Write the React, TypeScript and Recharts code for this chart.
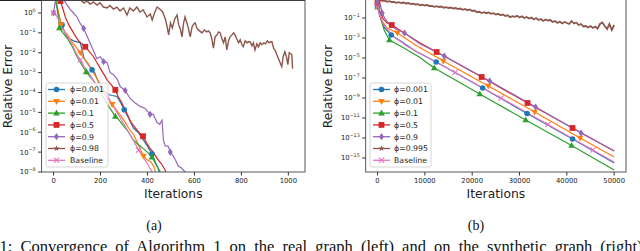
import React from 'react';
import { LineChart, Line, XAxis, YAxis } from 'recharts';

type Pt = [number, number]; // [iteration, log10(relative error)]

const FONT = '"DejaVu Sans", sans-serif';
const SERIF = '"Liberation Serif", "Times New Roman", serif';

const colors = ['#1f77b4', '#ff7f0e', '#2ca02c', '#d62728', '#9467bd', '#8c564b', '#e377c2'];
const shapes = ['o', 'v', '^', 's', 'd', '*', 'x'];
const namesA = ['ϕ=0.001', 'ϕ=0.01', 'ϕ=0.1', 'ϕ=0.5', 'ϕ=0.9', 'ϕ=0.98', 'Baseline'];
const namesB = ['ϕ=0.001', 'ϕ=0.01', 'ϕ=0.1', 'ϕ=0.5', 'ϕ=0.9', 'ϕ=0.995', 'Baseline'];

// ---- panel (a) ----
const aTicksX = [0, 200, 400, 600, 800, 1000];
const aTicksY = [0, -1, -2, -3, -4, -5, -6, -7, -8];

const blueA: Pt[] = [[0, 1.0], [10, 0.5], [20, 0.0], [30, -0.45], [36, -0.6], [45, -0.9], [57, -1.2], [70, -1.3], [85, -1.4], [100, -1.45], [114, -1.5], [122, -1.9], [130, -2.3], [145, -2.55], [164, -2.86], [175, -3.0], [185, -3.3], [199, -3.7], [215, -3.9], [234, -4.1], [250, -4.15], [270, -4.2], [285, -4.5], [301, -4.87], [320, -5.3], [341, -5.8], [360, -6.0], [383, -6.4], [400, -6.7], [419, -7.1], [433, -7.5], [445, -7.8], [455, -8.2]];
const orangeA: Pt[] = [[0, 1.2], [12, 0.5], [22, 0.0], [32, -0.6], [45, -0.9], [60, -1.1], [75, -1.4], [95, -1.7], [114, -2.0], [130, -2.3], [150, -2.6], [170, -3.0], [190, -3.4], [210, -3.8], [230, -4.2], [250, -4.6], [275, -5.0], [300, -5.4], [320, -5.8], [340, -6.1], [360, -6.6], [383, -7.2], [400, -7.4], [415, -7.5], [430, -7.8], [440, -8.3]];
const greenA: Pt[] = [[0, 1.3], [8, 0.8], [15, 0.3], [25, -0.75], [40, -1.0], [60, -1.3], [80, -1.7], [100, -2.2], [120, -2.6], [139, -2.96], [155, -3.2], [170, -3.4], [190, -3.8], [210, -4.2], [235, -4.7], [263, -5.2], [280, -5.4], [300, -5.7], [320, -6.0], [340, -6.4], [360, -6.6], [380, -6.8], [400, -7.0], [419, -7.25], [440, -7.7], [455, -8.0], [465, -8.3]];
const redA: Pt[] = [[0, 1.5], [15, 1.0], [29, 0.6], [40, 0.2], [50, -0.2], [65, -0.6], [80, -0.9], [95, -1.2], [110, -1.45], [135, -1.7], [150, -1.9], [170, -2.2], [185, -2.5], [200, -2.8], [215, -3.1], [230, -3.4], [245, -3.6], [263, -3.87], [275, -4.2], [290, -4.5], [310, -5.0], [330, -5.5], [350, -5.8], [370, -6.1], [381, -6.2], [395, -6.5], [410, -6.8], [425, -7.0], [440, -7.3], [460, -7.6], [475, -7.9], [485, -8.3]];
const purpleA: Pt[] = [[0, 0.0], [6, 0.5], [15, 0.9], [30, 0.85], [45, 0.65], [55, 0.45], [70, 0.2], [85, 0.0], [100, -0.2], [112, -0.5], [128, -0.77], [140, -1.1], [155, -1.5], [170, -1.9], [184, -2.3], [198, -2.2], [213, -2.45], [228, -2.5], [241, -3.0], [255, -3.1], [270, -3.3], [284, -3.7], [305, -3.9], [326, -4.3], [345, -4.5], [369, -4.7], [390, -4.8], [411, -5.1], [425, -5.1], [440, -5.5], [452, -5.6], [462, -5.4], [468, -6.4], [476, -6.7], [488, -6.7], [497, -7.0], [510, -7.2], [519, -7.4], [531, -7.7], [545, -7.8], [560, -8.0], [575, -8.2]];
const brownA: Pt[] = [[0, 1.4], [15, 1.2], [30, 1.1], [45, 1.0], [60, 0.95], [75, 0.85], [90, 0.75], [105, 0.68], [118, 0.62], [130, 0.5], [142, 0.62], [155, 0.45], [170, 0.55], [185, 0.4], [198, 0.52], [212, 0.3], [228, 0.25], [240, 0.38], [255, 0.2], [270, 0.3], [283, 0.1], [298, 0.25], [313, -0.1], [325, 0.25], [340, 0.1], [355, 0.3], [368, 0.05], [382, 0.15], [398, -0.2], [412, -0.05], [420, -0.35], [430, 0.0], [441, 0.3], [452, 0.2], [465, 0.05], [476, -0.3], [484, -0.7], [490, -1.1], [498, -0.5], [506, -0.75], [516, -0.3], [526, -0.1], [533, -0.6], [540, -0.8], [547, -1.2], [554, -0.5], [560, -0.2], [568, -0.5], [575, -0.8], [582, -1.2], [590, -0.7], [597, -0.55], [603, -0.5], [612, -0.8], [622, -0.9], [632, -1.0], [642, -0.85], [652, -0.95], [660, -0.9], [667, -1.0], [674, -1.3], [681, -1.77], [688, -1.2], [696, -1.1], [703, -0.95], [710, -1.0], [717, -1.3], [724, -1.5], [731, -1.2], [738, -1.86], [745, -1.4], [752, -1.2], [760, -1.1], [767, -1.0], [773, -1.1], [780, -1.3], [788, -1.5], [795, -1.35], [802, -1.6], [808, -1.7], [816, -1.4], [824, -1.5], [830, -1.45], [837, -1.45], [845, -1.65], [851, -1.5], [858, -1.86], [866, -1.55], [873, -1.7], [880, -1.5], [887, -1.6], [895, -1.5], [903, -1.55], [910, -1.4], [918, -1.5], [925, -1.45], [930, -1.45], [938, -1.8], [945, -1.9], [951, -2.1], [958, -2.3], [965, -2.5], [972, -2.7], [978, -2.2], [985, -1.95], [992, -2.2], [998, -2.6], [1004, -2.0], [1010, -2.05], [1015, -2.1], [1018, -2.8]];
const pinkA: Pt[] = [[0, 0.0], [10, -0.1], [20, -0.3], [35, -0.7], [50, -1.0], [65, -1.3], [80, -1.6], [95, -2.0], [114, -2.36], [130, -2.7], [150, -3.0], [170, -3.4], [190, -3.7], [210, -4.0], [227, -4.2], [250, -4.6], [270, -5.0], [295, -5.5], [320, -6.0], [340, -6.4], [362, -6.9], [380, -7.2], [400, -7.6], [415, -7.9], [430, -8.2]];

const marksA = [
  [36, 164, 301, 419],
  [32, 114, 250, 383],
  [25, 139, 263, 419],
  [29, 135, 263, 381],
  [0, 128, 213, 305, 411, 497],
  [],
  [0, 114, 227, 362],
];

// ---- panel (b) ----
const bTicksX = [0, 10000, 20000, 30000, 40000, 50000];
const bTicksY = [-1, -3, -5, -7, -9, -11, -13, -15];

const blueB: Pt[] = [[0, 0.2], [300, -0.5], [800, -1.3], [1500, -2.0], [2900, -2.7], [5200, -3.4], [8000, -4.3], [12400, -5.4], [22200, -8.0], [31600, -10.55], [41200, -13.1], [50000, -15.5]];
const orangeB: Pt[] = [[0, 0.4], [400, -0.5], [1000, -1.3], [2000, -2.0], [4200, -2.5], [8000, -3.7], [13900, -5.3], [23400, -7.8], [33200, -10.4], [42800, -13.0], [50000, -14.9]];
const greenB: Pt[] = [[0, 0.1], [400, -0.5], [800, -1.2], [1400, -2.2], [2500, -3.2], [5200, -3.9], [8800, -4.9], [12000, -6.0], [21600, -8.6], [31300, -11.2], [41000, -13.75], [50000, -16.2]];
const redB: Pt[] = [[0, 0.5], [500, -0.3], [1200, -1.1], [2000, -1.5], [3000, -1.7], [6000, -2.6], [9000, -3.5], [12500, -4.4], [22000, -6.9], [31700, -9.5], [41200, -12.0], [50000, -14.3]];
const purpleB: Pt[] = [[0, 0.6], [300, 0.5], [600, 0.3], [1000, -0.5], [1500, -1.0], [2500, -1.6], [3800, -2.1], [5700, -2.5], [9000, -3.6], [14100, -4.8], [23700, -7.3], [33400, -9.9], [43000, -12.5], [50000, -14.3]];
const brownB: Pt[] = [[0, 0.85], [500, 0.8], [1000, 0.72], [1500, 0.75], [2000, 0.63], [2500, 0.68], [3000, 0.6], [3500, 0.62], [4000, 0.52], [4500, 0.58], [5000, 0.5], [5500, 0.55], [6000, 0.45], [6500, 0.5], [7000, 0.4], [7500, 0.44], [8000, 0.35], [8500, 0.38], [9000, 0.28], [9500, 0.33], [10000, 0.25], [10500, 0.3], [11000, 0.2], [11500, 0.22], [12000, 0.12], [12500, 0.18], [13000, 0.1], [13500, 0.15], [14000, 0.03], [14500, 0.08], [15000, 0.0], [15500, 0.05], [16000, -0.05], [16500, 0.0], [17000, -0.1], [17500, -0.05], [18000, -0.18], [18500, -0.1], [19000, -0.22], [19500, -0.15], [20000, -0.3], [20500, -0.25], [21000, -0.42], [21500, -0.38], [22000, -0.5], [22500, -0.42], [23000, -0.52], [23500, -0.45], [24000, -0.58], [24500, -0.52], [25000, -0.66], [25500, -0.58], [26000, -0.72], [26500, -0.64], [27000, -0.8], [27500, -0.72], [28000, -0.92], [28500, -0.82], [29000, -0.88], [29500, -0.78], [30000, -0.95], [30500, -0.82], [31000, -1.0], [31500, -0.9], [32000, -1.05], [32500, -0.95], [33000, -1.15], [33500, -1.0], [34000, -1.2], [34500, -1.1], [35000, -1.3], [35500, -1.15], [36000, -1.25], [36500, -1.2], [37000, -1.4], [37500, -1.3], [38000, -1.5], [38500, -1.35], [39000, -1.55], [39500, -1.4], [40000, -1.5], [40500, -1.6], [41000, -1.3], [41500, -1.55], [42000, -1.45], [42500, -1.7], [43000, -1.6], [43500, -1.85], [44000, -1.8], [44500, -1.95], [45000, -1.8], [45500, -2.0], [46000, -1.85], [46500, -2.05], [47000, -1.6], [47500, -1.45], [48000, -1.8], [48500, -2.1], [49000, -1.6], [49500, -2.2], [50000, -1.7]];
const pinkB: Pt[] = [[0, 0.1], [400, -0.6], [1000, -1.4], [2000, -2.1], [3500, -2.9], [6500, -3.9], [10000, -4.8], [16400, -6.45], [26100, -9.0], [36000, -11.65], [45500, -14.2], [50000, -15.4]];

const marksB = [
  [0, 2900, 12400, 22200, 31600, 41200],
  [0, 4200, 13900, 23400, 33200, 42800],
  [0, 2500, 12000, 21600, 31300, 41000],
  [0, 3000, 12500, 22000, 31700, 41200],
  [0, 1000, 5700, 14100, 23700, 33400, 43000],
  [],
  [0, 16400, 26100, 36000, 45500],
];

const seriesA = [blueA, orangeA, greenA, redA, purpleA, brownA, pinkA];
const seriesB = [blueB, orangeB, greenB, redB, purpleB, brownB, pinkB];

const toData = (pts: Pt[]) => pts.map(([x, e]) => ({ x, y: Math.pow(10, e) }));

function Marker({ shape, cx, cy, color }: { shape: string; cx: number; cy: number; color: string }) {
  switch (shape) {
    case 'o':
      return <circle cx={cx} cy={cy} r={2.8} fill={color} />;
    case 's':
      return <rect x={cx - 2.9} y={cy - 2.9} width={5.8} height={5.8} fill={color} />;
    case '^':
      return <polygon points={`${cx},${cy - 3.6} ${cx - 3.3},${cy + 2.3} ${cx + 3.3},${cy + 2.3}`} fill={color} />;
    case 'v':
      return <polygon points={`${cx},${cy + 3.6} ${cx - 3.3},${cy - 2.3} ${cx + 3.3},${cy - 2.3}`} fill={color} />;
    case 'd':
      return <polygon points={`${cx},${cy - 3.6} ${cx + 2.5},${cy} ${cx},${cy + 3.6} ${cx - 2.5},${cy}`} fill={color} />;
    case '*': {
      const pts: string[] = [];
      for (let i = 0; i < 10; i++) {
        const r = i % 2 === 0 ? 3.2 : 1.3;
        const a = -Math.PI / 2 + (i * Math.PI) / 5;
        pts.push(`${cx + r * Math.cos(a)},${cy + r * Math.sin(a)}`);
      }
      return <polygon points={pts.join(' ')} fill={color} />;
    }
    default:
      return (
        <g stroke={color} strokeWidth={1.1}>
          <line x1={cx - 2.6} y1={cy - 2.6} x2={cx + 2.6} y2={cy + 2.6} />
          <line x1={cx - 2.6} y1={cy + 2.6} x2={cx + 2.6} y2={cy - 2.6} />
        </g>
      );
  }
}

const makeDot = (marks: number[], shape: string, color: string) => (p: any) => {
  const key = `${shape}-${p.index}`;
  if (!marks.includes(p.payload?.x) || p.cx == null || p.cy == null) return <g key={key} />;
  return (
    <g key={key}>
      <Marker shape={shape} cx={p.cx} cy={p.cy} color={color} />
    </g>
  );
};

const LogTick = (props: any) => {
  const { x, y, payload } = props;
  const e = Math.round(Math.log10(payload.value));
  const sup = e < 0 ? '\u2212' + String(-e) : String(e);
  return (
    <text x={x} y={y} dy={2.4} textAnchor="end" fontSize={6.8} fill="#222" fontFamily={FONT}>
      10<tspan dy={-3.2} fontSize={4.8}>{sup}</tspan>
    </text>
  );
};

function Panel({ series, marks, ticksX, ticksY, xDomain, yDomain, yWidth, marginRight, height, brownWidth }: any) {
  return (
    <LineChart width={320} height={height} margin={{ top: 0, right: marginRight, left: 0, bottom: 0 }}>
      <XAxis
        type="number"
        dataKey="x"
        domain={xDomain}
        ticks={ticksX}
        interval={0}
        allowDataOverflow
        axisLine={false}
        tickLine={{ stroke: '#333' }}
        tickSize={3.5}
        tickMargin={3}
        height={28}
        tick={{ fontSize: 6.8, fill: '#222', fontFamily: FONT }}
      />
      <YAxis
        type="number"
        scale="log"
        domain={yDomain}
        ticks={ticksY.map((e: number) => Math.pow(10, e))}
        interval={0}
        allowDataOverflow
        axisLine={false}
        tickLine={{ stroke: '#333' }}
        tickSize={3.5}
        tickMargin={2.5}
        width={yWidth}
        tick={LogTick}
      />
      {series.map((pts: Pt[], i: number) => (
        <Line
          key={i}
          data={toData(pts)}
          dataKey="y"
          type="linear"
          stroke={colors[i]}
          strokeWidth={i === 5 ? brownWidth : 1.2}
          dot={makeDot(marks[i], shapes[i], colors[i])}
          activeDot={false}
          isAnimationActive={false}
        />
      ))}
    </LineChart>
  );
}

function LegendBox({ x, y, w, h, names, hx, tx }: any) {
  return (
    <g>
      <rect x={x} y={y} width={w} height={h} rx={2} fill="rgba(255,255,255,0.8)" stroke="#cccccc" strokeWidth={0.8} />
      {names.map((n: string, i: number) => {
        const ry = y + 6.5 + i * 11.8;
        return (
          <g key={n}>
            <line x1={x + hx} x2={x + hx + 17} y1={ry} y2={ry} stroke={colors[i]} strokeWidth={1.3} />
            <Marker shape={shapes[i]} cx={x + hx + 8.5} cy={ry} color={colors[i]} />
            <text x={x + tx} y={ry} dy={2.8} fontSize={7.8} fill="#222" fontFamily={FONT}>{n}</text>
          </g>
        );
      })}
    </g>
  );
}

export default function App() {
  return (
    <div style={{ position: 'fixed', left: 0, top: 0, width: 640, height: 251, background: '#fff', overflow: 'hidden' }}>
      <div style={{ position: 'absolute', left: 0, top: 0 }}>
        <Panel series={seriesA} marks={marksA} ticksX={aTicksX} ticksY={aTicksY} xDomain={[-51, 1071]}
          yDomain={[1e-8, Math.pow(10, 0.654)]} yWidth={41.6} marginRight={15} height={200} brownWidth={1.4} />
      </div>
      <div style={{ position: 'absolute', left: 320, top: -2 }}>
        <Panel series={seriesB} marks={marksB} ticksX={bTicksX} ticksY={bTicksY} xDomain={[-2500, 52500]}
          yDomain={[Math.pow(10, -16.4), 10]} yWidth={45.7} marginRight={14} height={202} brownWidth={1.8} />
      </div>
      <svg width={640} height={251} style={{ position: 'absolute', left: 0, top: 0, pointerEvents: 'none' }}>
        <line x1={0} x2={305} y1={0.5} y2={0.5} stroke="#222" strokeWidth={1.2} />
        <rect x={41.6} y={0.5} width={263.4} height={171.5} fill="none" stroke="#444" strokeWidth={0.9} />
        <rect x={365.7} y={-2} width={260.3} height={174} fill="none" stroke="#444" strokeWidth={0.9} />
        <LegendBox x={46} y={83} w={62} h={84} names={namesA} hx={2} tx={24} />
        <LegendBox x={370} y={83} w={61} h={84} names={namesB} hx={3} tx={24} />
        <text x={173.3} y={198.3} textAnchor="middle" fontSize={12.3} fill="#222" fontFamily={FONT}>Iterations</text>
        <text x={495.9} y={198.3} textAnchor="middle" fontSize={12.3} fill="#222" fontFamily={FONT}>Iterations</text>
        <text transform="translate(11.5,86.5) rotate(-90)" textAnchor="middle" fontSize={12.3} fill="#222" fontFamily={FONT}>Relative Error</text>
        <text transform="translate(331.5,86.5) rotate(-90)" textAnchor="middle" fontSize={12.3} fill="#222" fontFamily={FONT}>Relative Error</text>
        <text x={154} y={229.5} textAnchor="middle" fontSize={14} fill="#111" fontFamily={SERIF}>(a)</text>
        <text x={476} y={229.5} textAnchor="middle" fontSize={14} fill="#111" fontFamily={SERIF}>(b)</text>
        <text x={-0.5} y={251.5} fontSize={16.5} fill="#111" fontFamily={SERIF} style={{ wordSpacing: 4 }}>
          1: Convergence of Algorithm 1 on the real graph (left) and on the synthetic graph (right).
        </text>
      </svg>
    </div>
  );
}
